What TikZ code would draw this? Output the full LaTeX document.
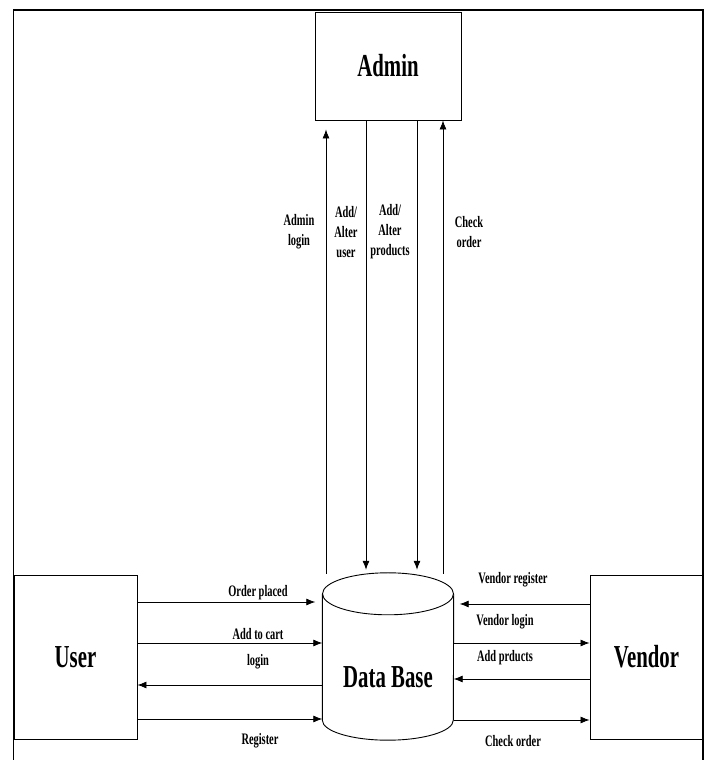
\documentclass[tikz,border=0pt]{standalone}
\usepackage{fontspec}
\setmainfont{Liberation Serif}
\newfontfamily\boxfont{Liberation Serif}[FakeStretch=0.65]
\usetikzlibrary{arrows.meta}
\begin{document}
\begin{tikzpicture}[x=1pt,y=1pt,
		entity/.style={draw,line width=0.9pt,inner sep=0pt,font=\boxfont\bfseries\fontsize{32}{36}\selectfont},
		flow/.style={-{Latex[length=9pt,width=7pt]},line width=0.8pt},
		lbl/.style={inner sep=0pt,align=center,font=\boxfont\bfseries\fontsize{16}{20}\selectfont}]
		\useasboundingbox (0,0) rectangle (708,760);
		\draw[line width=1.2pt] (13.5,0) -- (13.5,750) -- (703,750) -- (703,0);
		
		\node[entity,minimum width=146pt,minimum height=108pt] (admin) at (388,694) {Admin};
		\node[entity,minimum width=123pt,minimum height=164pt] (user) at (75.5,103) {User};
		\node[entity,minimum width=113pt,minimum height=164pt] (vendor) at (646.5,103) {Vendor};
		
		% data base drawn as a cylinder round an empty node
		\node[minimum width=131pt,minimum height=126pt,inner sep=0pt] (db) at (388,103) {};
		\draw[line width=0.9pt] (db.north west) -- (db.south west) arc[start angle=180,end angle=360,x radius=65.5,y radius=20] -- (db.north east);
		\draw[line width=0.9pt] (db.north) ellipse [x radius=65.5,y radius=21];
		\node[entity,draw=none] (dbname) at (388,83) {Data Base};
		
		\draw[flow] ([xshift=-62pt,yshift=20pt]db.north) -- ([xshift=-62pt,yshift=-9pt]admin.south);
		\draw[flow] ([xshift=-22pt]admin.south) -- ([xshift=-22pt,yshift=24pt]db.north);
		\draw[flow] ([xshift=29pt]admin.south) -- ([xshift=29pt,yshift=24pt]db.north);
		\draw[flow] ([xshift=55pt,yshift=20pt]db.north) -- ([xshift=55pt]admin.south);
		
		\node[lbl] (adminlogin) at (299,528) {Admin\\login};
		\node[lbl] (alteruser) at (346,528) {Add/\\Alter\\user};
		\node[lbl] (alterprod) at (390,528) {Add/\\Alter\\products};
		\node[lbl] (checkadmin) at (469,528) {Check\\order};
		
		\draw[flow,shorten >=7pt] (user.east |- 0,158) -- (db.west |- 0,158);
		\draw[flow] (user.east |- 0,117) -- (db.west |- 0,117);
		\draw[flow] (db.west |- 0,75) -- (user.east |- 0,75);
		\draw[flow] (user.east |- 0,41) -- (db.west |- 0,41);
		
		\node[lbl] (placed) at (258,167) {Order placed};
		\node[lbl] (cart) at (258,126) {Add to cart};
		\node[lbl] (login) at (258,98) {login};
		\node[lbl] (register) at (260,19) {Register};
		
		\draw[flow,shorten >=6pt] (vendor.west |- 0,156) -- (db.east |- 0,156);
		\draw[flow] (db.east |- 0,117) -- (vendor.west |- 0,117);
		\draw[flow] (vendor.west |- 0,81) -- (db.east |- 0,81);
		\draw[flow] (db.east |- 0,40) -- (vendor.west |- 0,40);
		
		\node[lbl] (vregister) at (513,180) {Vendor register};
		\node[lbl] (vlogin) at (505,138) {Vendor login};
		\node[lbl] (vproducts) at (505,102) {Add prducts};
		\node[lbl] (vcheck) at (513,19) {Check order};
		\end{tikzpicture}
\end{document}
